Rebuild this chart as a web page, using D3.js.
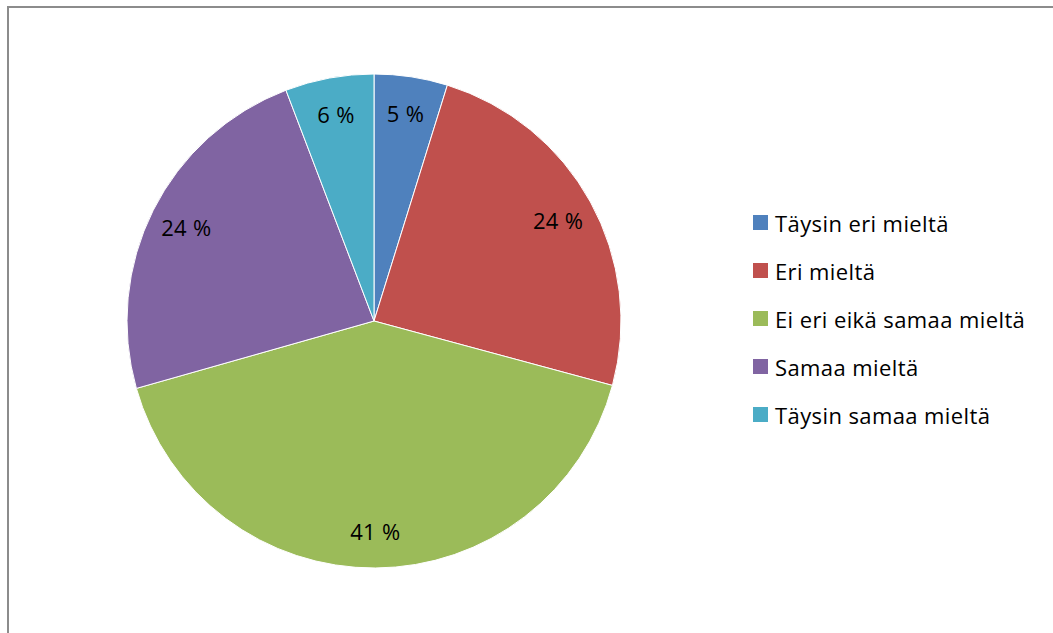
<!DOCTYPE html>
<html><head><meta charset="utf-8">
<script src="https://cdn.jsdelivr.net/npm/d3@7"></script>
<style>body{margin:0;background:#fff;} svg{display:block;}</style>
</head><body>
<script>
const categories = ["Täysin eri mieltä","Eri mieltä","Ei eri eikä samaa mieltä","Samaa mieltä","Täysin samaa mieltä"];
const values = [4.8, 24.4, 41.4, 23.6, 5.8];
const colors = ["#4f81bd","#c0504d","#9bbb59","#8064a2","#4bacc6"];

const W = 1053, H = 633;
const svg = d3.select("body").append("svg").attr("width", W).attr("height", H);
const font = "'Open Sans', Lato, sans-serif";

svg.append("rect").attr("x", 8).attr("y", 7).attr("width", W + 10).attr("height", H + 10)
  .attr("fill", "#fff").attr("stroke", "#8c8c8c").attr("stroke-width", 2);

const cx = 374, cy = 321, R = 247;
const data = categories.map((c, i) => ({c, v: values[i], col: colors[i]}));
const pie = d3.pie().value(d => d.v).sort(null);
const arc = d3.arc().innerRadius(0).outerRadius(R);
const labelArc = d3.arc().innerRadius(210).outerRadius(210);
const g = svg.append("g").attr("transform", `translate(${cx},${cy})`);
const arcs = pie(data);
g.selectAll("path").data(arcs).join("path")
  .attr("d", arc).attr("fill", d => d.data.col)
  .attr("stroke", "#fff").attr("stroke-width", 1);
g.selectAll("text").data(arcs).join("text")
  .attr("transform", d => `translate(${labelArc.centroid(d)})`)
  .attr("text-anchor", "middle").attr("dominant-baseline", "central")
  .attr("font-family", font).attr("font-size", 22).attr("letter-spacing", 0.3).attr("fill", "#000")
  .text(d => Math.round(d.data.v) + " %");

const lg = svg.append("g");
const rows = lg.selectAll("g").data(data).join("g")
  .attr("transform", (d, i) => `translate(753,${223 + i * 48})`);
rows.append("rect").attr("x", 0).attr("y", -8).attr("width", 15).attr("height", 15).attr("fill", d => d.col);
rows.append("text").attr("x", 22).attr("y", 0).attr("dominant-baseline", "central")
  .attr("font-family", font).attr("font-size", 22).attr("letter-spacing", 0.4).attr("fill", "#000").text(d => d.c);
</script>
</body></html>
